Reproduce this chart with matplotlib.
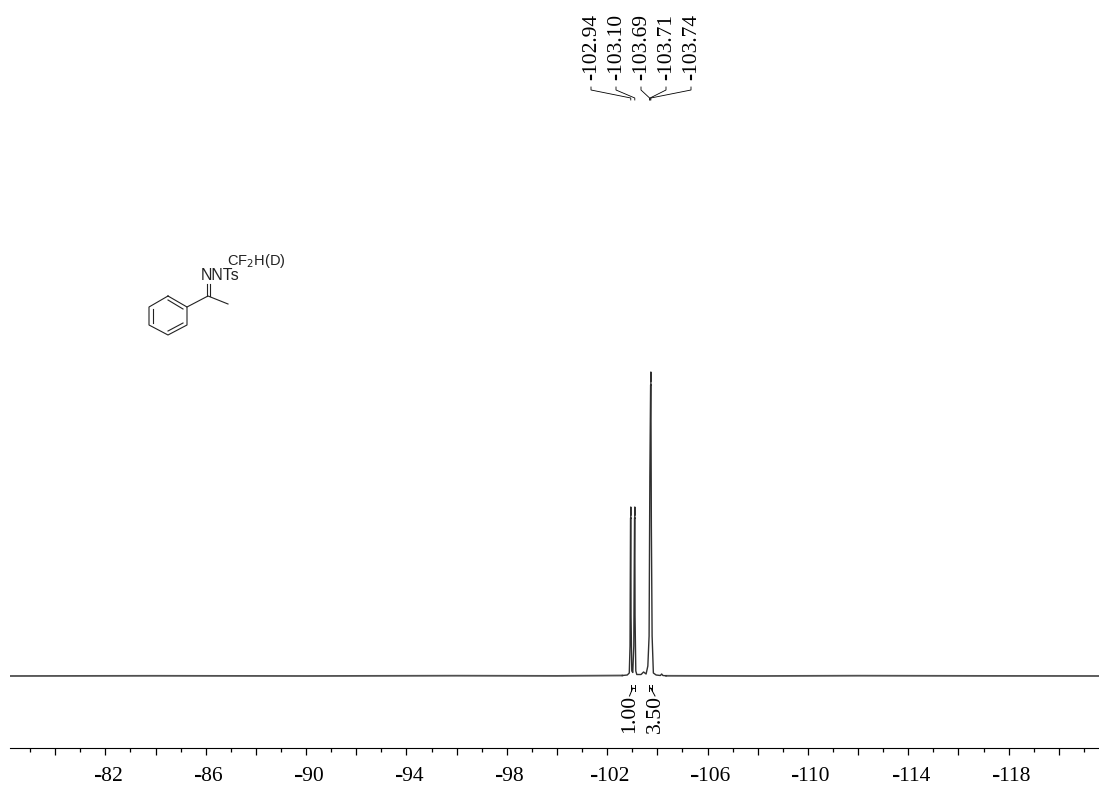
import numpy as np
import matplotlib
matplotlib.use('Agg')
import matplotlib.pyplot as plt

W, H = 1099, 787
plt.rcParams['font.family'] = ['Liberation Serif', 'DejaVu Serif']

# spectrum: ppm, height above baseline
baseline_ppm = [-78.2, -84.0, -90.0, -96.0, -100.0, -102.6]
baseline_int = [0.0, 0.2, 0.0, 0.3, 0.1, 0.5]
peak_ppm = [-102.60, -102.80, -102.88, -102.91, -102.93, -102.94, -102.94, -102.94, -102.94, -102.95, -102.98, -103.02,
            -103.06, -103.09, -103.10, -103.10, -103.10, -103.10, -103.11, -103.14, -103.18, -103.35,
            -103.45, -103.55, -103.62, -103.67, -103.70, -103.73, -103.74, -103.74, -103.74, -103.74,
            -103.76, -103.79, -103.84, -103.95, -104.12, -104.17, -104.22,
            -104.35]
peak_int = [0.5, 1.0, 3.0, 30.0, 158.0, 158.0, np.nan, 161.0, 169.0, 60.0, 5.0, 3.5,
            30.0, 158.0, 158.0, np.nan, 161.0, 169.0, 60.0, 5.0, 1.5, 1.5,
            4.0, 2.0, 10.0, 40.0, 200.0, 291.0, 291.0, np.nan, 295.0, 304.0,
            150.0, 40.0, 3.0, 1.0, 0.5, 2.0, 0.5,
            0.2]
tail_ppm = [-104.35, -108.0, -112.0, -117.0, -121.6]
tail_int = [0.2, 0.0, 0.3, 0.1, 0.0]

shift_labels = ['-102.94', '-103.10', '-103.69', '-103.71', '-103.74']
shift_ppm = [-102.94, -103.10, -103.69, -103.71, -103.74]
label_x_px = [591, 616, 641, 666, 691]

integral_labels = ['1.00', '3.50']
integral_start = [-102.94, -103.66]
integral_end = [-103.10, -103.80]
integral_x_px = [629.5, 655]

major_ticks = np.arange(-120, -78, 2)
minor_ticks = np.arange(-121, -78, 2)
tick_labels = np.arange(-118, -78, 4)

fig = plt.figure(figsize=(W / 100, H / 100), dpi=100)
ax = fig.add_axes([10 / W, (H - 748) / H, 1 - 10 / W, 748 / H])
ax.set_xlim(-78.2, -121.6)
ax.set_ylim(-72, 676)

ax.plot(baseline_ppm, baseline_int, color='#505050', lw=1.3)
ax.plot(tail_ppm, tail_int, color='#505050', lw=1.3)
ax.plot(peak_ppm, peak_int, color='#303030', lw=1.0)

for s in ['top', 'left', 'right']:
    ax.spines[s].set_visible(False)
ax.spines['bottom'].set_linewidth(0.8)
ax.set_yticks([])
ax.set_xticks(major_ticks)
ax.set_xticks(minor_ticks, minor=True)
ax.tick_params(axis='x', which='major', length=5, width=0.9, labelbottom=False)
ax.tick_params(axis='x', which='minor', length=3, width=0.9)
tick_texts = []
for t in tick_labels:
    tick_texts.append(ax.annotate(str(t), (t, 0), xycoords=('data', 'axes fraction'),
                                  xytext=(2.2, -13.7), textcoords='offset points',
                                  ha='center', va='top', fontsize=15.5))

# overlay in picture pixels for peak labels and the structure
ov = fig.add_axes([0, 0, 1, 1], facecolor='none')
ov.set_xlim(0, W)
ov.set_ylim(H, 0)
ov.axis('off')


def px(ppm):
    return ax.transData.transform((ppm, 0))[0]


# the hyphens print heavy in the original
renderer = fig.canvas.get_renderer()
for txt in tick_texts:
    x0 = txt.get_window_extent(renderer).x0
    ov.plot([x0 + 0.5, x0 + 6], [775.5, 775.5], color='k', lw=1.5, solid_capstyle='butt')

for lab, ppm, x in zip(shift_labels, shift_ppm, label_x_px):
    ov.text(x + 0.5, 80.5, lab, rotation=90, ha='center', va='bottom', fontsize=15.5)
    ov.plot([x - 0.5, x - 0.5], [74.5, 80], color='k', lw=1.5, solid_capstyle='butt')
    ov.plot([x, x, px(ppm), px(ppm)], [87, 90, 98, 100], color='k', lw=0.6)

for lab, a, b, x in zip(integral_labels, integral_start, integral_end, integral_x_px):
    ov.text(x, 695, lab, rotation=90, ha='center', va='top', fontsize=15.7)
    ov.plot([px(a), px(a)], [685, 691], color='k', lw=0.7)
    ov.plot([px(b), px(b)], [685, 691], color='k', lw=0.7)
    ov.plot([px(a), px(b)], [688, 688], color='k', lw=0.7)
    ov.plot([(px(a) + px(b)) / 2, x], [688, 696], color='k', lw=0.7)

# structure
ring_x = [168, 187, 187, 168, 149, 149, 168]
ring_y = [296, 307, 325, 335, 325, 307, 296]
ov.plot(ring_x, ring_y, color='#222222', lw=0.8)
ov.plot([153, 153], [309, 323], color='#222222', lw=0.8)
ov.plot([168, 183], [331, 323], color='#222222', lw=0.8)
ov.plot([168, 183], [300, 309], color='#222222', lw=0.8)
ov.plot([187, 208, 228], [307, 296, 304], color='#222222', lw=0.8)
ov.plot([206.5, 206.5], [284, 296], color='#222222', lw=0.8)
ov.plot([209.5, 209.5], [284, 296], color='#222222', lw=0.8)
sans = ['Liberation Sans', 'DejaVu Sans']
ov.text(201, 280, 'NNTs', family=sans, fontsize=11.5, ha='left', va='baseline', color='#222222')
ov.text(227, 265, 'CF$_2$H(D)', family=sans, fontsize=10.5, ha='left', va='baseline', color='#222222')

fig.savefig('out.png', dpi=100)
